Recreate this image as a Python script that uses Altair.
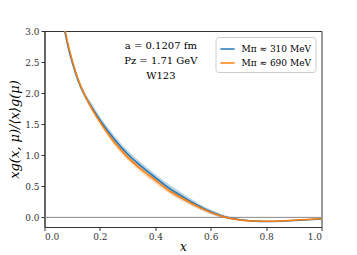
import altair as alt
import pandas as pd

xs = [0.065, 0.073, 0.08, 0.09, 0.10, 0.12, 0.145, 0.17, 0.2, 0.25, 0.3, 0.35, 0.4,
      0.45, 0.5, 0.55, 0.6, 0.65, 0.7, 0.75, 0.8, 0.85, 0.9, 0.95, 1.0]
blue_mid = [3.2, 3.0, 2.85, 2.66, 2.5, 2.22, 1.97, 1.78, 1.57, 1.27, 1.02, 0.82, 0.64,
            0.47, 0.33, 0.2, 0.09, 0.01, -0.035, -0.058, -0.066, -0.062, -0.05, -0.038, -0.028]
blue_err = [0.05, 0.05, 0.05, 0.05, 0.05, 0.05, 0.05, 0.055, 0.055, 0.06, 0.06, 0.06, 0.06,
            0.06, 0.055, 0.045, 0.035, 0.025, 0.018, 0.012, 0.01, 0.01, 0.01, 0.008, 0.006]
orange_mid = [3.25, 3.05, 2.89, 2.7, 2.53, 2.24, 1.97, 1.76, 1.54, 1.22, 0.97, 0.77, 0.6,
              0.43, 0.3, 0.18, 0.08, 0.005, -0.038, -0.058, -0.064, -0.058, -0.046, -0.034, -0.022]
orange_err = [0.04, 0.04, 0.04, 0.04, 0.04, 0.04, 0.04, 0.045, 0.045, 0.05, 0.05, 0.05, 0.05,
              0.05, 0.045, 0.035, 0.028, 0.018, 0.014, 0.01, 0.008, 0.008, 0.008, 0.006, 0.005]

series_names = ["Mπ ≈ 310 MeV", "Mπ ≈ 690 MeV"]
series_colors = ["#1f77b4", "#ff7f0e"]
annot_lines = ["a = 0.1207 fm", "Pz = 1.71 GeV", "W123"]
annot_y = [2.76, 2.51, 2.27]
x_ticks = [0.0, 0.2, 0.4, 0.6, 0.8, 1.0]
y_ticks = [0.0, 0.5, 1.0, 1.5, 2.0, 2.5, 3.0]

rows = []
for name, mids, errs in [(series_names[0], blue_mid, blue_err),
                         (series_names[1], orange_mid, orange_err)]:
    for x, m, e in zip(xs, mids, errs):
        rows.append({"x": x, "y": m, "lo": m - e, "hi": m + e, "series": name})
df = pd.DataFrame(rows)

SERIF = "DejaVu Serif"
xscale = alt.Scale(domain=[0, 1], nice=False, zero=False)
yscale = alt.Scale(domain=[-0.155, 3.0], nice=False, zero=False)
xaxis = alt.Axis(values=x_ticks, format=".1f", title="x", titleFontStyle="italic",
                 titleFontSize=12, titlePadding=0, grid=False, labelOverlap=False)
yaxis = alt.Axis(values=y_ticks, format=".1f", title="xg(x, μ)/⟨x⟩g(μ)",
                 titleFontStyle="italic", titleFontSize=13, titlePadding=3, grid=False,
                 labelOverlap=False)

base = alt.Chart(df)

def band(name, col):
    return base.transform_filter(alt.datum.series == name).mark_area(
        opacity=0.3, clip=True, interpolate="monotone", color=col
    ).encode(
        x=alt.X("x:Q", scale=xscale, axis=xaxis),
        y=alt.Y("lo:Q", scale=yscale, axis=yaxis),
        y2="hi:Q",
    )

bands = [band(n, c) for n, c in zip(series_names, series_colors)]

lines = base.mark_line(strokeWidth=1.5, clip=True, interpolate="monotone").encode(
    x=alt.X("x:Q", scale=xscale, axis=xaxis),
    y=alt.Y("y:Q", scale=yscale, axis=yaxis),
    color=alt.Color("series:N", scale=alt.Scale(domain=series_names, range=series_colors),
                    legend=alt.Legend(title=None, orient="none", legendX=171, legendY=6,
                                      symbolType="stroke", symbolStrokeWidth=1.5, symbolSize=200,
                                      labelFont=SERIF, labelFontSize=9, labelOffset=6,
                                      strokeColor="#cccccc", cornerRadius=3, fillColor="white",
                                      padding=4, rowPadding=1)),
)

zero = alt.Chart(pd.DataFrame({"y0": [0.0]})).mark_rule(color="#888888", strokeWidth=1).encode(
    y=alt.Y("y0:Q", scale=yscale, axis=yaxis)
)

annot = alt.Chart(pd.DataFrame({"t": annot_lines, "ty": annot_y, "tx": [0.42] * 3})).mark_text(
    font=SERIF, fontSize=10, align="center", baseline="middle", color="black"
).encode(
    x=alt.X("tx:Q", scale=xscale, axis=xaxis),
    y=alt.Y("ty:Q", scale=yscale, axis=yaxis),
    text="t:N",
)

chart = alt.layer(zero, *bands, lines, annot).properties(
    width=277, height=196,
    padding={"left": 36.5, "top": 23, "right": 20, "bottom": 28},
    autosize=alt.AutoSizeParams(type="none"),
).configure_view(stroke="#333333", strokeWidth=1).configure_axis(
    labelFont=SERIF, labelFontSize=9, titleFont=SERIF, titleFontWeight="normal",
    domainColor="#333333", tickColor="#333333", labelColor="#333333", titleColor="black",
    tickSize=3.5, labelPadding=2,
)

chart.save("out.html", embed_options={"renderer": "svg", "actions": False})
